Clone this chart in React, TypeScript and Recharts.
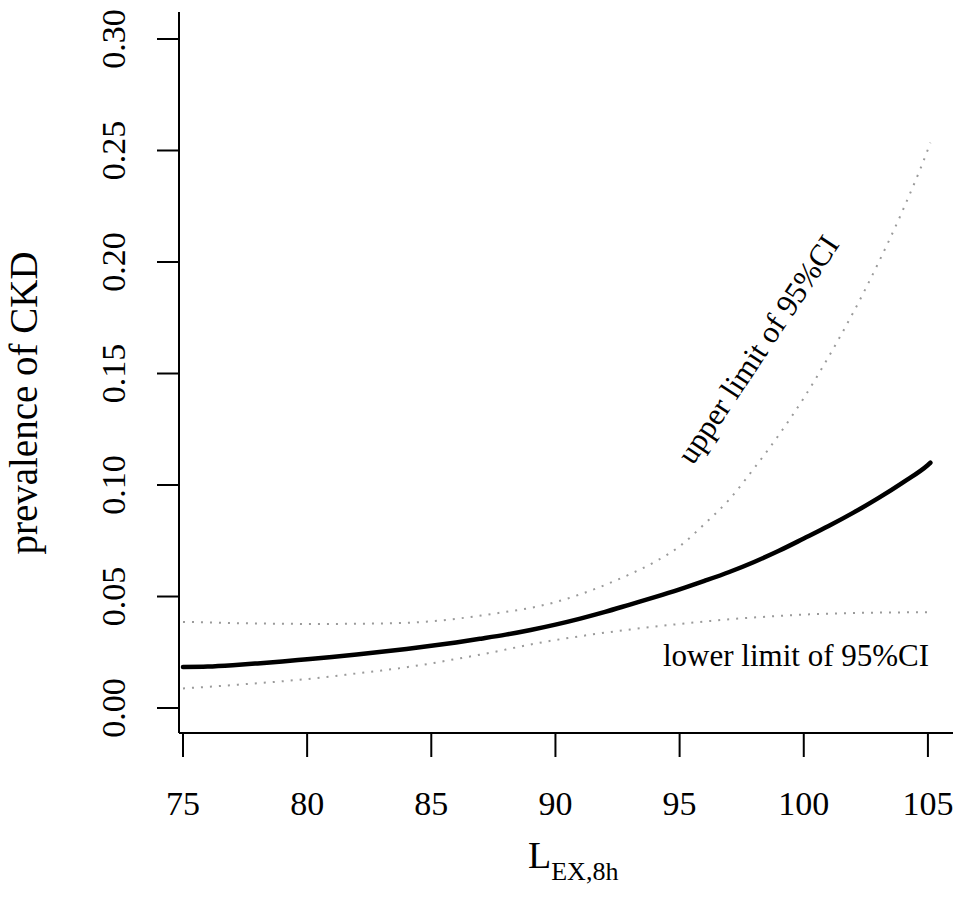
import React from 'react'
import { LineChart, Line, XAxis, YAxis, Label, Customized } from 'recharts'

const xValues = [
  75, 76, 77, 78, 79, 80, 81, 82, 83, 84, 85, 86, 87, 88, 89, 90,
  91, 92, 93, 94, 95, 96, 97, 98, 99, 100, 101, 102, 103, 104, 105, 105.1,
]
const estimate = [
  0.0184, 0.0186, 0.0192, 0.02, 0.0209, 0.0219, 0.0229, 0.024, 0.0252, 0.0265, 0.0279,
  0.0294, 0.0311, 0.0329, 0.035, 0.0374, 0.0401, 0.0431, 0.0464, 0.0497, 0.0532,
  0.057, 0.061, 0.0655, 0.0705, 0.076, 0.0816, 0.0876, 0.0941, 0.1012, 0.109, 0.11,
]
const upperCI = [
  0.0386, 0.0384, 0.0381, 0.0379, 0.0378, 0.0377, 0.0377, 0.0378, 0.0379, 0.0382, 0.0389,
  0.04, 0.0415, 0.0431, 0.0449, 0.0475, 0.051, 0.0552, 0.06, 0.0655, 0.0725,
  0.0825, 0.0935, 0.1075, 0.1225, 0.139, 0.1575, 0.1775, 0.1995, 0.2235, 0.2505, 0.2535,
]
const lowerCI = [
  0.0088, 0.0095, 0.0103, 0.0111, 0.012, 0.013, 0.0142, 0.0155, 0.0168, 0.0183, 0.02,
  0.022, 0.024, 0.0262, 0.0285, 0.0305, 0.0322, 0.0338, 0.0352, 0.0365, 0.0377,
  0.0388, 0.0398, 0.0406, 0.0413, 0.0419, 0.0423, 0.0426, 0.0428, 0.0429, 0.043, 0.043,
]
const xTicks = [75, 80, 85, 90, 95, 100, 105]
const yTicks = [0, 0.05, 0.1, 0.15, 0.2, 0.25, 0.3]

const data = xValues.map((x, i) => ({
  x,
  est: estimate[i],
  upper: upperCI[i],
  lower: lowerCI[i],
}))

const FONT = '"Liberation Serif", "Times New Roman", serif'

const XTick = (props: any) => (
  <text x={props.x} y={815} textAnchor="middle" fontFamily={FONT} fontSize={34} fill="#000">
    {props.payload.value}
  </text>
)

const YTick = (props: any) => (
  <text
    transform={`translate(125, ${props.y}) rotate(-90)`}
    textAnchor="middle"
    fontFamily={FONT}
    fontSize={34}
    fill="#000"
  >
    {Number(props.payload.value).toFixed(2)}
  </text>
)

const XTitle = () => (
  <text x={528} y={868} fontFamily={FONT} fontSize={38} fill="#000">
    L
    <tspan fontSize={26} dy={12}>EX,8h</tspan>
  </text>
)

const YTitle = () => (
  <text
    transform="translate(37, 403) rotate(-90)"
    textAnchor="middle"
    fontFamily={FONT}
    fontSize={39}
    fill="#000"
  >
    prevalence of CKD
  </text>
)

const Annotations = () => (
  <g fontFamily={FONT} fontSize={31} fill="#000">
    <text transform="translate(693, 466) rotate(-56.4)">upper limit of 95%CI</text>
    <text x={663} y={666}>lower limit of 95%CI</text>
  </g>
)

export default function App() {
  return (
    <div style={{ position: 'absolute', left: 0, top: 0, background: '#fff' }}>
      <LineChart width={953} height={902} data={data} margin={{ top: 12, right: 0, left: 0, bottom: 0 }}>
        <XAxis
          dataKey="x"
          type="number"
          domain={[74.84, 106.01]}
          ticks={xTicks}
          allowDataOverflow
          height={169}
          tickSize={24}
          axisLine={{ stroke: '#000', strokeWidth: 2 }}
          tickLine={{ stroke: '#000', strokeWidth: 2 }}
          tick={<XTick />}
        >
          <Label content={<XTitle />} />
        </XAxis>
        <YAxis
          type="number"
          domain={[-0.0112, 0.3121]}
          ticks={yTicks}
          allowDataOverflow
          width={179}
          tickSize={22}
          axisLine={{ stroke: '#000', strokeWidth: 2 }}
          tickLine={{ stroke: '#000', strokeWidth: 2 }}
          tick={<YTick />}
        >
          <Label content={<YTitle />} />
        </YAxis>
        <Line
          dataKey="upper"
          type="monotone"
          stroke="#9a9a9a"
          strokeWidth={2}
          strokeDasharray="2 7"
          dot={false}
          isAnimationActive={false}
        />
        <Line
          dataKey="lower"
          type="monotone"
          stroke="#9a9a9a"
          strokeWidth={2}
          strokeDasharray="2 7"
          dot={false}
          isAnimationActive={false}
        />
        <Line
          dataKey="est"
          type="monotone"
          stroke="#000"
          strokeWidth={4.5}
          strokeLinecap="round"
          dot={false}
          isAnimationActive={false}
        />
        <Customized component={Annotations} />
      </LineChart>
    </div>
  )
}
